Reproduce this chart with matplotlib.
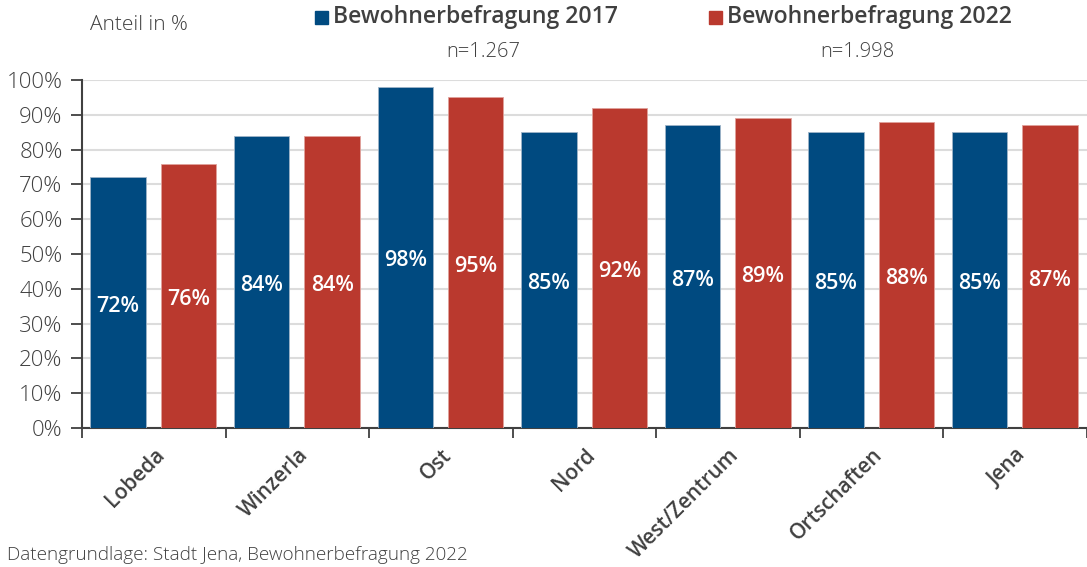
import matplotlib.pyplot as plt
import numpy as np

plt.rcParams['font.family'] = ['Open Sans', 'DejaVu Sans']

gebiete = ['Lobeda', 'Winzerla', 'Ost', 'Nord', 'West/Zentrum', 'Ortschaften', 'Jena']
werte_2017 = [72, 84, 98, 85, 87, 85, 85]
werte_2022 = [76, 84, 95, 92, 89, 88, 87]
serien = ['Bewohnerbefragung 2017', 'Bewohnerbefragung 2022']
stichprobe = ['n=1.267', 'n=1.998']

BLAU = '#004a80'
ROT = '#ba392e'
GRAU = '#404040'


def main():
    fig = plt.figure(figsize=(10.87, 5.67), dpi=100)
    ax = fig.add_axes([82 / 1087, 1 - 428 / 567, 1 - 82 / 1087, 348 / 567])

    x = np.arange(len(gebiete))
    w = 0.386
    b1 = ax.bar(x - 0.248, werte_2017, w, color=BLAU, edgecolor='#9fb4c8', linewidth=0.6, zorder=3)
    b2 = ax.bar(x + 0.242, werte_2022, w, color=ROT, edgecolor='#e0a19b', linewidth=0.6, zorder=3)

    for bars in (b1, b2):
        for r in bars:
            v = r.get_height()
            ax.text(r.get_x() + r.get_width() / 2, v / 2 - 1, f'{v:.0f}%', ha='center', va='center',
                    color='white', fontsize=15.5, fontweight='semibold', zorder=4)

    ax.set_xlim(-0.5, 6.43)
    ax.set_ylim(0, 100)
    ax.set_yticks(np.arange(0, 101, 10))
    ax.set_yticklabels([f'{t}%' for t in range(0, 101, 10)], fontweight='light')
    ax.yaxis.grid(True, color='#dcdcdc', linewidth=1.5, zorder=0)
    ax.set_axisbelow(True)

    ax.set_xticks(np.arange(len(gebiete) + 1) - 0.5)
    ax.set_xticklabels([])
    ax.set_xticks(x, minor=True)
    ax.set_xticklabels(gebiete, minor=True, rotation=45, ha='right', va='top',
                       rotation_mode='anchor', fontsize=15, fontweight='semibold', color=GRAU)
    ax.tick_params(axis='x', which='minor', length=0, pad=12)
    ax.tick_params(axis='x', which='major', length=7, width=1.3, color=GRAU)
    ax.tick_params(axis='y', length=8, width=1.3, color=GRAU, labelsize=16, labelcolor=GRAU, pad=6)

    for s in ('top', 'right'):
        ax.spines[s].set_visible(False)
    for s in ('left', 'bottom'):
        ax.spines[s].set_color(GRAU)
        ax.spines[s].set_linewidth(1.5)

    # Legende oben
    fig.text(90 / 1087, 1 - 25 / 567, 'Anteil in %', fontsize=15, fontweight='light',
             color=GRAU, va='center')
    for xs, farbe, name, n, xn in [(315, BLAU, serien[0], stichprobe[0], 483),
                                   (709, ROT, serien[1], stichprobe[1], 857)]:
        fig.patches.append(plt.Rectangle((xs / 1087, 1 - 24 / 567), 13 / 1087, 13 / 567,
                                         transform=fig.transFigure, color=farbe))
        fig.text((xs + 18) / 1087, 1 - 17 / 567, name, fontsize=16.6, fontweight='semibold',
                 color=GRAU, va='center')
        fig.text(xn / 1087, 1 - 52 / 567, n, fontsize=14.5, fontweight='light', color=GRAU,
                 va='center', ha='center')

    fig.text(7 / 1087, 1 - 555 / 567, 'Datengrundlage: Stadt Jena, Bewohnerbefragung 2022',
             fontsize=13.6, fontweight='light', color=GRAU, va='center')

    fig.savefig('out.png', dpi=100)


if __name__ == '__main__':
    main()
